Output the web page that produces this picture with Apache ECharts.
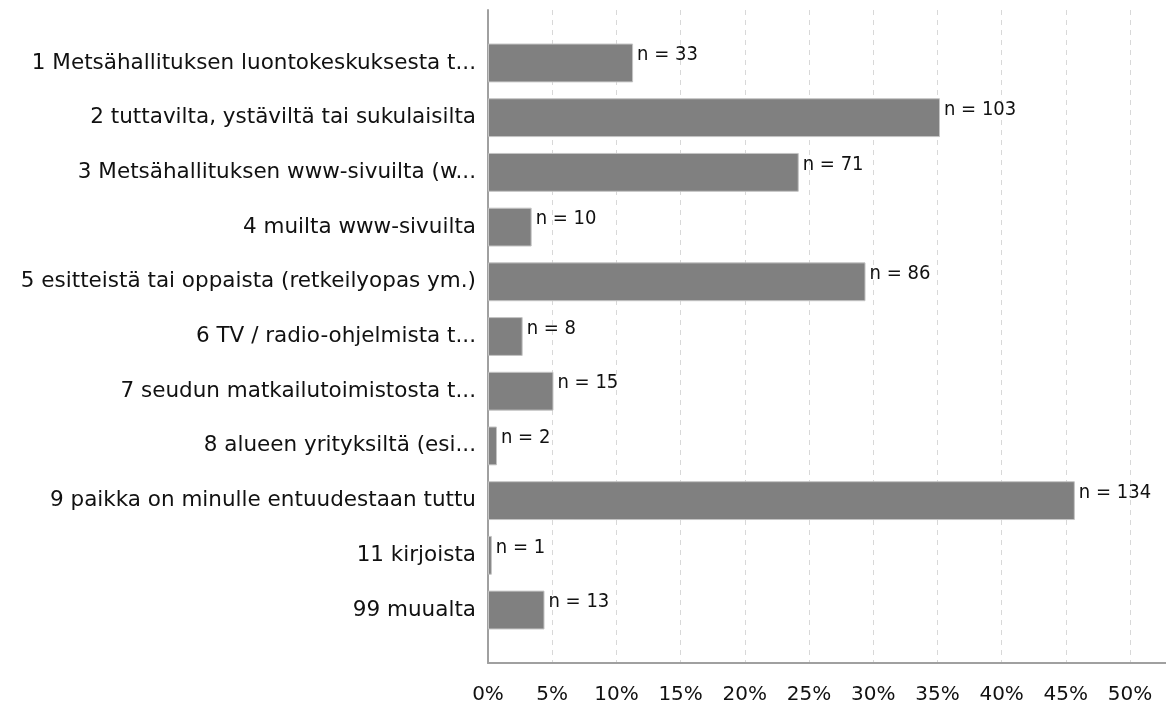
<!DOCTYPE html>
<html>
<head>
<meta charset="utf-8">
<script src="https://cdn.jsdelivr.net/npm/echarts@6/dist/echarts.min.js"></script>
<style>
html,body{margin:0;padding:0;background:#fff;}
#chart{width:1166px;height:708px;}
</style>
</head>
<body>
<div id="chart"></div>
<script>
var categories = [
  "1 Metsähallituksen luontokeskuksesta t...",
  "2 tuttavilta, ystäviltä tai sukulaisilta",
  "3 Metsähallituksen www-sivuilta (w...",
  "4 muilta www-sivuilta",
  "5 esitteistä tai oppaista (retkeilyopas ym.)",
  "6 TV / radio-ohjelmista t...",
  "7 seudun matkailutoimistosta t...",
  "8 alueen yrityksiltä (esi...",
  "9 paikka on minulle entuudestaan tuttu",
  "11 kirjoista",
  "99 muualta"
];
var percents = [11.3, 35.2, 24.2, 3.4, 29.4, 2.7, 5.1, 0.7, 45.7, 0.3, 4.4];
var counts = [33, 103, 71, 10, 86, 8, 15, 2, 134, 1, 13];
var tickLabels = ["0%", "5%", "10%", "15%", "20%", "25%", "30%", "35%", "40%", "45%", "50%"];

var FONT = "DejaVu Sans";
var XMAX = 52.8;
var chart = echarts.init(document.getElementById('chart'), null, {renderer: 'canvas'});
chart.setOption({
  animation: false,
  grid: [
    {left: 488, right: 0, top: 10, bottom: 45, containLabel: false},
    {left: 488, right: 0, top: 35.6, bottom: 70.6, containLabel: false}
  ],
  xAxis: [{
    gridIndex: 0,
    type: 'value',
    min: 0,
    max: XMAX,
    interval: 5,
    axisLine: {show: true, lineStyle: {color: '#a0a0a0', width: 2}},
    axisTick: {show: false},
    splitLine: {show: true, lineStyle: {color: '#d8d8d8', type: [5, 5], width: 1}},
    axisLabel: {
      color: '#111',
      fontFamily: FONT,
      fontSize: 20,
      margin: 22,
      showMaxLabel: false,
      formatter: function (v) {
        var i = Math.round(v / 5);
        return (Math.abs(v - i * 5) < 1e-6 && i < tickLabels.length) ? tickLabels[i] : '';
      }
    }
  }, {
    gridIndex: 1,
    type: 'value',
    min: 0,
    max: XMAX,
    show: false
  }],
  yAxis: [{
    gridIndex: 0,
    type: 'category',
    data: [''],
    axisLine: {show: true, lineStyle: {color: '#a0a0a0', width: 2}},
    axisTick: {show: false},
    axisLabel: {show: false}
  }, {
    gridIndex: 1,
    type: 'category',
    inverse: true,
    data: categories,
    axisLine: {show: false},
    axisTick: {show: false},
    axisLabel: {color: '#111', fontFamily: FONT, fontSize: 21.5, margin: 12}
  }],
  series: [{
    type: 'bar',
    xAxisIndex: 1,
    yAxisIndex: 1,
    data: percents,
    barCategoryGap: '29%',
    itemStyle: {color: '#808080', borderColor: '#c4c4c4', borderWidth: 1},
    label: {
      show: true,
      position: 'right',
      distance: 4,
      offset: [0, -8],
      color: '#111',
      fontFamily: "DejaVu Sans Condensed, DejaVu Sans",
      fontSize: 20,
      formatter: function (p) { return 'n = ' + counts[p.dataIndex]; }
    }
  }]
});
</script>
</body>
</html>
